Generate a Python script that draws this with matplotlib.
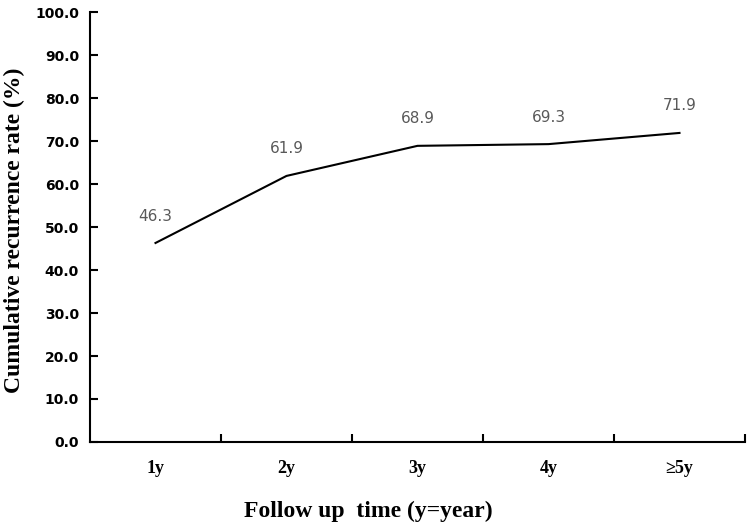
import matplotlib
matplotlib.use("Agg")
import matplotlib.pyplot as plt
import numpy as np

categories = ["1y", "2y", "3y", "4y", "\u22655y"]
values = [46.3, 61.9, 68.9, 69.3, 71.9]
yticks = [0, 10, 20, 30, 40, 50, 60, 70, 80, 90, 100]

fig = plt.figure(figsize=(7.5, 5.29), dpi=100)
ax = fig.add_axes([0.12, 0.1645, 0.8733, 0.8125])

x = np.arange(len(categories))
ax.plot(x, values, color="black", lw=1.5)
for xi, v in zip(x, values):
    ax.annotate(f"{v:.1f}", (xi, v), xytext=(0, 14), textcoords="offset points",
                ha="center", va="bottom", color="#595959", fontsize=11,
                family="DejaVu Sans")

ax.set_xlim(-0.5, len(categories) - 0.5)
ax.set_ylim(0, 100)
ax.set_yticks(yticks)
ax.set_yticklabels([f"{t:.1f}" for t in yticks], fontsize=10, fontweight="bold",
                   family="DejaVu Sans")
ax.tick_params(axis="y", direction="in", length=6, width=1.5, pad=8)

ax.set_xticks(x)
ax.set_xticklabels(categories, fontsize=13, fontweight="bold", family="Liberation Serif")
ax.tick_params(axis="x", length=0, pad=13)
ax.set_xticks(np.arange(len(categories)) + 0.5, minor=True)
ax.tick_params(axis="x", which="minor", direction="in", length=6, width=1.5)

for s in ["top", "right"]:
    ax.spines[s].set_visible(False)
for s in ["left", "bottom"]:
    ax.spines[s].set_linewidth(1.5)

ax.set_xlabel("Follow up  time (y=year)", fontsize=17, fontweight="bold",
              family="Liberation Serif")
ax.set_ylabel("Cumulative recurrence rate (%)", fontsize=17, fontweight="bold",
              family="Liberation Serif")
ax.xaxis.set_label_coords(0.425, -0.137)
ax.yaxis.set_label_coords(-0.099, 0.493)

fig.savefig("out.png", dpi=100)
